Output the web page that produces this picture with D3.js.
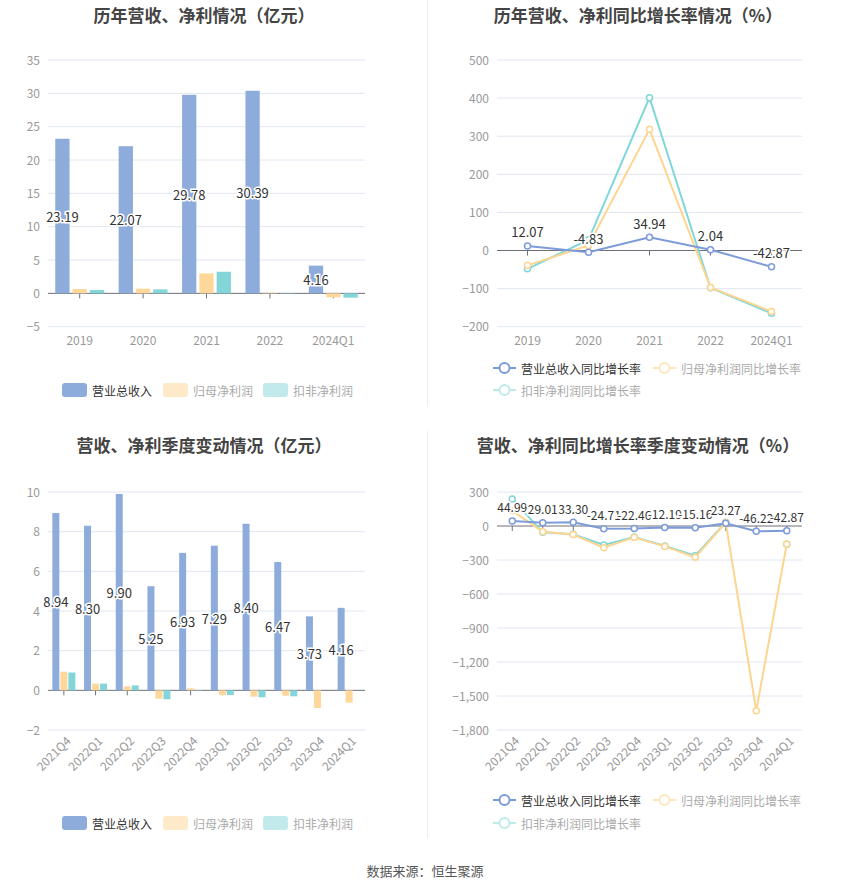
<!DOCTYPE html>
<html>
<head>
<meta charset="utf-8">
<script src="https://cdn.jsdelivr.net/npm/d3@7"></script>
<style>
  body { margin: 0; background: #fff; }
  text { font-family: "Noto Sans CJK SC", "Noto Sans", sans-serif; }
</style>
</head>
<body>
<svg id="chart" width="850" height="891"></svg>
<script>
// annual data
const years = ["2019", "2020", "2021", "2022", "2024Q1"];
const yearRevenue = [23.19, 22.07, 29.78, 30.39, 4.16];
const yearNetProfit = [0.65, 0.7, 3.0, 0.1, -0.6];
const yearDeductProfit = [0.5, 0.6, 3.24, 0.05, -0.65];
const yearRevenueGrowth = [12.07, -4.83, 34.94, 2.04, -42.87];
const yearNetGrowth = [-39, 13, 318, -97, -160];
const yearDeductGrowth = [-48, 28, 401, -98, -165];

// quarterly data
const quarters = ["2021Q4", "2022Q1", "2022Q2", "2022Q3", "2022Q4", "2023Q1", "2023Q2", "2023Q3", "2023Q4", "2024Q1"];
const qRevenue = [8.94, 8.30, 9.90, 5.25, 6.93, 7.29, 8.40, 6.47, 3.73, 4.16];
const qNetProfit = [0.94, 0.34, 0.2, -0.42, 0.1, -0.24, -0.32, -0.27, -0.89, -0.62];
const qDeductProfit = [0.9, 0.34, 0.25, -0.45, -0.02, -0.24, -0.35, -0.3, null, null];
const qRevenueGrowth = [44.99, 29.01, 33.30, -24.71, -22.46, -12.19, -15.16, 23.27, -46.22, -42.87];
const qNetGrowth = [135, -50, -75, -191, -100, -180, -276, 30, -1630, -159];
const qDeductGrowth = [238, -56, -73, -168, -97, -177, -262, 33, null, -160];

const barNames = ["营业总收入", "归母净利润", "扣非净利润"];
const lineNames = ["营业总收入同比增长率", "归母净利润同比增长率", "扣非净利润同比增长率"];
const barColors = ["#8eacdb", "#fdd89a", "#84d5d8"];
const lineColors = ["#7d9bd9", "#fdd590", "#80d7d7"];
const legendFade = ["#8eacdb", "#feeac8", "#c2eaec"];

const svg = d3.select("#chart");
const fmt = d3.format(",");

// panel dividers
svg.append("line").attr("x1", 427.5).attr("x2", 427.5).attr("y1", 0).attr("y2", 407)
  .attr("stroke", "#eee");
svg.append("line").attr("x1", 427.5).attr("x2", 427.5).attr("y1", 431).attr("y2", 838)
  .attr("stroke", "#eee");

function title(x, y, t) {
  svg.append("text").attr("x", x).attr("y", y).attr("text-anchor", "middle")
    .attr("dominant-baseline", "central")
    .style("font-size", "17px").style("font-weight", "bold").attr("fill", "#444").text(t);
}

function valueLabel(g, x, y, t, size) {
  g.append("text").attr("x", x).attr("y", y).attr("text-anchor", "middle")
    .attr("dominant-baseline", "central")
    .style("font-size", size + "px").attr("fill", "#333")
    .attr("stroke", "#fff").attr("stroke-width", 3).attr("paint-order", "stroke")
    .text(t);
}

// shared axis frame: gridlines, y labels, zero line, ticks, x labels
function frame(cats, domain, ticks, xr, yr, labelY, rotate) {
  const x = d3.scaleBand().domain(cats).range(xr);
  const y = d3.scaleLinear().domain(domain).range(yr);
  const g = svg.append("g");
  ticks.forEach(t => {
    if (t !== 0) g.append("line").attr("x1", xr[0]).attr("x2", xr[1])
      .attr("y1", y(t)).attr("y2", y(t)).attr("stroke", "#e0e6f1");
    g.append("text").attr("x", xr[0] - 8).attr("y", y(t) - 1).attr("text-anchor", "end")
      .attr("dominant-baseline", "central").style("font-size", "12px").attr("fill", "#999")
      .text(fmt(t));
  });
  g.append("line").attr("x1", xr[0]).attr("x2", xr[1]).attr("y1", y(0)).attr("y2", y(0))
    .attr("stroke", "#6e7079");
  cats.forEach(c => {
    const cx = x(c) + x.bandwidth() / 2;
    g.append("line").attr("x1", cx).attr("x2", cx).attr("y1", y(0)).attr("y2", y(0) + 5)
      .attr("stroke", "#6e7079");
    if (rotate) {
      g.append("text").attr("transform", `translate(${cx + 4},${labelY}) rotate(-45)`)
        .attr("text-anchor", "end").attr("dominant-baseline", "central")
        .style("font-size", "12px").attr("fill", "#999").text(c);
    } else {
      g.append("text").attr("x", cx).attr("y", labelY).attr("text-anchor", "middle")
        .attr("dominant-baseline", "central").style("font-size", "12px").attr("fill", "#999").text(c);
    }
  });
  return { x, y, g };
}

function barPanel(cats, series, domain, ticks, yr, labelY, rotate, bw, gap) {
  const { x, y, g } = frame(cats, domain, ticks, [48, 365], yr, labelY, rotate);
  const group = series.length * bw + (series.length - 1) * gap;
  series.forEach((vals, si) => {
    vals.forEach((v, i) => {
      if (v === null) return;
      const bx = x(cats[i]) + x.bandwidth() / 2 - group / 2 + si * (bw + gap);
      g.append("rect").attr("x", bx).attr("width", bw)
        .attr("y", Math.min(y(v), y(0))).attr("height", Math.abs(y(v) - y(0)))
        .attr("fill", barColors[si]);
    });
  });
  // revenue labels in the middle of the bar
  series[0].forEach((v, i) => {
    const cx = x(cats[i]) + x.bandwidth() / 2 - group / 2 + bw / 2;
    valueLabel(g, cx, (y(v) + y(0)) / 2, v.toFixed(2), 13);
  });
}

function linePanel(cats, series, domain, ticks, yr, labelY, rotate, labelSize) {
  const { x, y, g } = frame(cats, domain, ticks, [497, 802], yr, labelY, rotate);
  const cx = c => x(c) + x.bandwidth() / 2;
  [2, 1, 0].forEach(si => {
    const vals = series[si];
    const line = d3.line().defined(d => d !== null)
      .x((d, i) => cx(cats[i])).y(d => y(d));
    g.append("path").datum(vals).attr("d", line).attr("fill", "none")
      .attr("stroke", lineColors[si]).attr("stroke-width", 2);
    vals.forEach((v, i) => {
      if (v === null) return;
      g.append("circle").attr("cx", cx(cats[i])).attr("cy", y(v)).attr("r", 3)
        .attr("fill", "#fff").attr("stroke", lineColors[si]).attr("stroke-width", 1.5);
    });
  });
  series[0].forEach((v, i) => valueLabel(g, cx(cats[i]), y(v) - 14, v.toFixed(2), labelSize));
}

function barLegend(y) {
  const xs = [62, 163, 263];
  barNames.forEach((n, i) => {
    svg.append("rect").attr("x", xs[i]).attr("y", y - 7).attr("width", 25).attr("height", 14)
      .attr("rx", 3).attr("fill", legendFade[i]);
    svg.append("text").attr("x", xs[i] + 30).attr("y", y).attr("dominant-baseline", "central")
      .style("font-size", "12px").attr("fill", i === 0 ? "#333" : "#aaa").text(n);
  });
}

function lineLegend(y1, y2) {
  const pos = [[493, y1], [653, y1], [493, y2]];
  const cols = [lineColors[0], "#fee7bf", "#bdebeb"];
  lineNames.forEach((n, i) => {
    const [lx, ly] = pos[i];
    svg.append("line").attr("x1", lx).attr("x2", lx + 23).attr("y1", ly).attr("y2", ly)
      .attr("stroke", cols[i]).attr("stroke-width", 2);
    svg.append("circle").attr("cx", lx + 11.5).attr("cy", ly).attr("r", 5)
      .attr("fill", "#fff").attr("stroke", cols[i]).attr("stroke-width", 2);
    svg.append("text").attr("x", lx + 28).attr("y", ly).attr("dominant-baseline", "central")
      .style("font-size", "12px").attr("fill", i === 0 ? "#333" : "#aaa").text(n);
  });
}

title(204, 14, "历年营收、净利情况（亿元）");
title(638, 14, "历年营收、净利同比增长率情况（%）");
title(204, 444, "营收、净利季度变动情况（亿元）");
title(638, 444, "营收、净利同比增长率季度变动情况（%）");

barPanel(years, [yearRevenue, yearNetProfit, yearDeductProfit], [-5, 35],
  d3.range(-5, 36, 5), [326.7, 60], 339, false, 14.3, 3);
linePanel(years, [yearRevenueGrowth, yearNetGrowth, yearDeductGrowth], [-200, 500],
  d3.range(-200, 501, 100), [326.7, 60], 339, false, 13);
barPanel(quarters, [qRevenue, qNetProfit, qDeductProfit], [-2, 10],
  d3.range(-2, 11, 2), [730, 492], 738, true, 7, 1);
linePanel(quarters, [qRevenueGrowth, qNetGrowth, qDeductGrowth], [-1800, 300],
  d3.range(-1800, 301, 300), [730, 492], 738, true, 12);

barLegend(390);
lineLegend(368, 390);
barLegend(823);
lineLegend(800, 823);

svg.append("text").attr("x", 425).attr("y", 870).attr("text-anchor", "middle")
  .attr("dominant-baseline", "central").style("font-size", "13px").attr("fill", "#555")
  .text("数据来源：恒生聚源");
</script>
</body>
</html>
